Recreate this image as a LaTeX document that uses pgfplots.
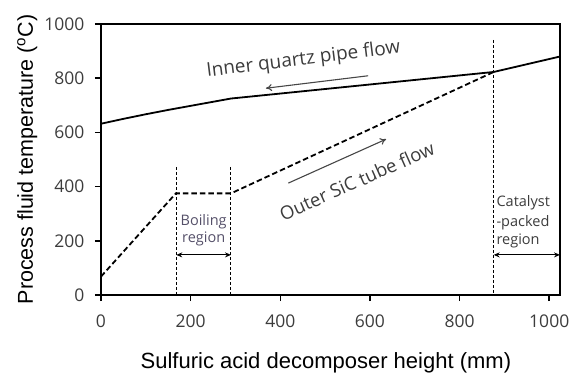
\documentclass[border=0pt]{standalone}
\usepackage{pgfplots}
\pgfplotsset{compat=1.18}
\usepackage{fontspec}
\setmainfont{Open Sans}
\newfontfamily\arialfont{Liberation Sans}
\usetikzlibrary{arrows.meta}
\definecolor{txt}{RGB}{60,60,60}
\definecolor{boil}{RGB}{85,80,105}
\definecolor{arr}{RGB}{70,70,70}
\begin{document}
\begin{tikzpicture}
\begin{axis}[
  name=ax,
  at={(0,0)}, anchor=south west,
  scale only axis,
  width=459pt, height=271pt,
  xmin=0, xmax=1024, ymin=0, ymax=1000,
  xtick={0,200,...,1000}, ytick={0,200,...,1000},
  tick pos=left, tick align=outside,
  major tick length=6pt,
  tick style={line width=1.5pt, black},
  axis line style={line width=1.6pt},
  clip=false,
  /pgf/number format/assume math mode=true,
  /pgf/number format/1000 sep={},
  every tick label/.append style={font=\fontsize{17.5}{21}\selectfont, text=txt},
  yticklabel style={xshift=-7pt},
  xticklabel style={yshift=-10pt},
  xlabel={Sulfuric acid decomposer height (mm)},
  ylabel={Process fluid temperature (\textsuperscript{o}C)},
  xlabel style={font=\arialfont\fontsize{22}{25}\selectfont, at={([yshift=-73pt]axis description cs:0.49,0)}, anchor=base},
  ylabel style={font=\arialfont\fontsize{21.5}{25}\selectfont, at={([xshift=-68pt]axis description cs:0,0.5)}, anchor=base},
]
% inner quartz pipe flow
\addplot[line width=1.8pt, black] coordinates {(0,632)(50,650)(100,667)(150,683)(200,698)(250,713)(290,725)(876,823)(1024,880)};
% outer SiC tube flow
\addplot[line width=1.8pt, black, dash pattern=on 5.5pt off 3pt] coordinates {(0,68)(167,375)(290,375)(876,823)};
% region boundaries
\addplot[line width=1pt, black, dash pattern=on 3pt off 2pt] coordinates {(168,473)(168,0)};
\addplot[line width=1pt, black, dash pattern=on 3pt off 2pt] coordinates {(290,473)(290,0)};
\addplot[line width=1pt, black, dash pattern=on 3pt off 2pt] coordinates {(876,941)(876,0)};
% region arrows
\addplot[line width=1.2pt, black, {Stealth[length=6pt,width=5pt]}-{Stealth[length=6pt,width=5pt]}] coordinates {(168,148)(290,148)};
\addplot[line width=1.2pt, black, {Stealth[length=6pt,width=5pt]}-{Stealth[length=6pt,width=5pt]}] coordinates {(876,148)(1024,148)};
% flow arrows
\addplot[line width=1.1pt, arr, -{To[length=6pt,width=7pt]}] coordinates {(596,809)(368,763)};
\addplot[line width=1.1pt, arr, -{To[length=6pt,width=7pt]}] coordinates {(418,413)(636,575)};
% texts
\node[rotate=7.1, anchor=base, font=\fontsize{19}{22}\selectfont, text=txt, inner sep=0pt] at (axis cs:453,849) {Inner quartz pipe flow};
\node[rotate=24, anchor=base, font=\fontsize{18.5}{22}\selectfont, text=txt, inner sep=0pt] at (axis cs:577,397) {Outer SiC tube flow};
\node[anchor=base, font=\fontsize{14.5}{17}\selectfont, text=boil, inner sep=0pt] at (axis cs:229,256) {Boiling};
\node[anchor=base, font=\fontsize{14.5}{17}\selectfont, text=boil, inner sep=0pt] at (axis cs:229,193) {region};
\node[anchor=base west, font=\fontsize{14.5}{17}\selectfont, text=txt, inner sep=0pt] at (axis cs:882,326) {Catalyst};
\node[anchor=base west, font=\fontsize{14.5}{17}\selectfont, text=txt, inner sep=0pt] at (axis cs:882,252) {-packed};
\node[anchor=base west, font=\fontsize{14.5}{17}\selectfont, text=txt, inner sep=0pt] at (axis cs:882,188) {region};
\end{axis}
\pgfresetboundingbox
\path[use as bounding box] ([shift={(-101pt,-81pt)}]ax.south west) rectangle ++(572pt,376pt);
\end{tikzpicture}
\end{document}
